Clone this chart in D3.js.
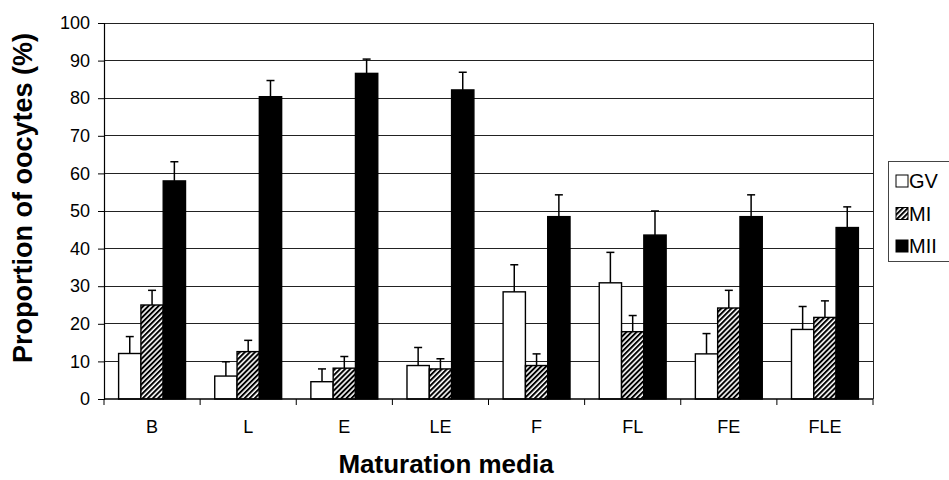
<!DOCTYPE html>
<html>
<head>
<meta charset="utf-8">
<script src="https://cdn.jsdelivr.net/npm/d3@7"></script>
<style>
  html, body { margin: 0; padding: 0; background: #fff; }
  svg { display: block; font-family: "Liberation Sans", Arial, sans-serif; }
</style>
</head>
<body>
<svg id="chart" width="949" height="480"></svg>
<script>
// Maturation media and stage proportions (mean %, with upper error)
const categories = ["B", "L", "E", "LE", "F", "FL", "FE", "FLE"];
const seriesNames = ["GV", "MI", "MII"];
const gvValues  = [12.1, 6.1, 4.6, 8.9, 28.5, 30.9, 12.0, 18.5];
const gvErrors  = [4.5, 3.8, 3.4, 4.8, 7.2, 8.1, 5.4, 6.1];
const miValues  = [25.0, 12.6, 8.2, 8.0, 8.9, 17.9, 24.2, 21.7];
const miErrors  = [3.9, 3.0, 3.1, 2.7, 3.1, 4.3, 4.7, 4.4];
const miiValues = [58.0, 80.4, 86.6, 82.2, 48.5, 43.6, 48.5, 45.6];
const miiErrors = [5.1, 4.3, 3.8, 4.7, 5.8, 6.4, 5.8, 5.5];
const yTicks = [0, 10, 20, 30, 40, 50, 60, 70, 80, 90, 100];

const valuesBySeries = { GV: gvValues, MI: miValues, MII: miiValues };
const errorsBySeries = { GV: gvErrors, MI: miErrors, MII: miiErrors };

const svg = d3.select("#chart");
const plot = { left: 104, right: 873, top: 23, bottom: 399 };

// Diagonal hatch for the MI bars
const defs = svg.append("defs");
const hatch = defs.append("pattern")
  .attr("id", "hatch")
  .attr("patternUnits", "userSpaceOnUse")
  .attr("width", 3.6).attr("height", 3.6)
  .attr("patternTransform", "rotate(45)");
hatch.append("rect").attr("width", 3.6).attr("height", 3.6).attr("fill", "#fff");
hatch.append("rect").attr("width", 2.0).attr("height", 3.6).attr("fill", "#000");

const fills = { GV: "#fff", MI: "url(#hatch)", MII: "#000" };

const x0 = d3.scaleBand().domain(categories).range([plot.left, plot.right]).padding(0);
const bw = x0.bandwidth();
const x1 = d3.scaleBand().domain(seriesNames).range([bw * 0.152, bw * 0.848]).padding(0);
const y = d3.scaleLinear().domain([0, 100]).range([plot.bottom, plot.top]);

// Horizontal gridlines
svg.append("g")
  .selectAll("line")
  .data(yTicks.filter(t => t > 0))
  .join("line")
  .attr("x1", plot.left).attr("x2", plot.right)
  .attr("y1", d => y(d)).attr("y2", d => y(d))
  .attr("stroke", "#222").attr("stroke-width", 1)
  .attr("shape-rendering", "crispEdges");

// Right frame
svg.append("line")
  .attr("x1", plot.right).attr("x2", plot.right)
  .attr("y1", plot.top).attr("y2", plot.bottom)
  .attr("stroke", "#222").attr("stroke-width", 1)
  .attr("shape-rendering", "crispEdges");

// Bars
const rows = categories.map((c, i) => seriesNames.map(s => ({
  cat: c, series: s, value: valuesBySeries[s][i], err: errorsBySeries[s][i]
}))).flat();

const barG = svg.append("g");
barG.selectAll("rect")
  .data(rows)
  .join("rect")
  .attr("x", d => x0(d.cat) + x1(d.series))
  .attr("y", d => y(d.value))
  .attr("width", x1.bandwidth())
  .attr("height", d => y(0) - y(d.value))
  .attr("fill", d => fills[d.series])
  .attr("stroke", "#000")
  .attr("stroke-width", 1.4);

// Upper error bars
const errG = svg.append("g").attr("stroke", "#000").attr("stroke-width", 1.5);
errG.selectAll("line.stem")
  .data(rows)
  .join("line")
  .attr("class", "stem")
  .attr("x1", d => x0(d.cat) + x1(d.series) + x1.bandwidth() / 2)
  .attr("x2", d => x0(d.cat) + x1(d.series) + x1.bandwidth() / 2)
  .attr("y1", d => y(d.value))
  .attr("y2", d => y(d.value + d.err));
errG.selectAll("line.cap")
  .data(rows)
  .join("line")
  .attr("class", "cap")
  .attr("x1", d => x0(d.cat) + x1(d.series) + x1.bandwidth() / 2 - 4)
  .attr("x2", d => x0(d.cat) + x1(d.series) + x1.bandwidth() / 2 + 4)
  .attr("y1", d => y(d.value + d.err))
  .attr("y2", d => y(d.value + d.err));

// Y axis
const yAxis = svg.append("g")
  .attr("transform", `translate(${plot.left},0)`)
  .call(d3.axisLeft(y).tickValues(yTicks).tickSize(6).tickPadding(8).tickFormat(d3.format("d")));
yAxis.select(".domain").attr("stroke", "#000").attr("stroke-width", 1.2);
yAxis.selectAll(".tick line").attr("stroke", "#000");
yAxis.selectAll(".tick text")
  .attr("font-size", 18).attr("fill", "#000")
  .attr("font-family", "Liberation Sans, Arial, sans-serif");

// X axis with ticks on category boundaries
const xAxisG = svg.append("g");
xAxisG.append("line")
  .attr("x1", plot.left).attr("x2", plot.right)
  .attr("y1", plot.bottom).attr("y2", plot.bottom)
  .attr("stroke", "#000").attr("stroke-width", 1.4);
const boundaries = categories.map(c => x0(c)).concat([x0(categories[categories.length - 1]) + bw]);
xAxisG.selectAll("line.tick")
  .data(boundaries)
  .join("line")
  .attr("class", "tick")
  .attr("x1", d => d).attr("x2", d => d)
  .attr("y1", plot.bottom).attr("y2", plot.bottom + 6)
  .attr("stroke", "#000").attr("stroke-width", 1);
xAxisG.selectAll("text")
  .data(categories)
  .join("text")
  .attr("x", d => x0(d) + bw / 2)
  .attr("y", 432.5)
  .attr("text-anchor", "middle")
  .attr("font-size", 18)
  .attr("fill", "#000")
  .text(d => d);

// Axis titles
svg.append("text")
  .attr("x", 446).attr("y", 473)
  .attr("text-anchor", "middle")
  .attr("font-size", 26).attr("font-weight", "bold")
  .text("Maturation media");

svg.append("text")
  .attr("transform", "translate(32,198) rotate(-90)")
  .attr("text-anchor", "middle")
  .attr("font-size", 27).attr("font-weight", "bold")
  .text("Proportion of oocytes (%)");

// Legend
const legend = svg.append("g");
legend.append("rect")
  .attr("x", 888.5).attr("y", 161.5)
  .attr("width", 90).attr("height", 100)
  .attr("fill", "#fff").attr("stroke", "#444").attr("stroke-width", 1);
const items = legend.selectAll("g.item")
  .data(seriesNames)
  .join("g")
  .attr("class", "item")
  .attr("transform", (d, i) => `translate(896,${181 + i * 32.5})`);
items.append("rect")
  .attr("x", 0).attr("y", -6)
  .attr("width", 12).attr("height", 12)
  .attr("fill", d => fills[d])
  .attr("stroke", "#000").attr("stroke-width", 1);
items.append("text")
  .attr("x", 13).attr("y", 0)
  .attr("dy", "0.36em")
  .attr("font-size", 20)
  .attr("fill", "#000")
  .text(d => d);
</script>
</body>
</html>
